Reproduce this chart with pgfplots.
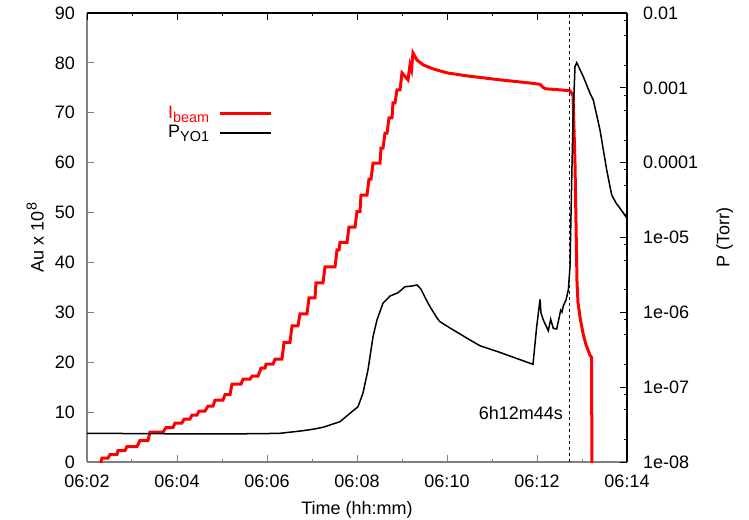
\documentclass[border=0pt]{standalone}
\usepackage{fontspec}
\setmainfont{Liberation Sans}
\usepackage{pgfplots}
\pgfplotsset{compat=1.18}
\newcommand\sub[1]{\raisebox{-0.45ex}{\fontsize{14.4}{14.4}\selectfont #1}}
\newcommand\sups[1]{\raisebox{0.75ex}{\fontsize{14.4}{14.4}\selectfont #1}}
\begin{document}
\fontsize{18}{21}\selectfont
\begin{tikzpicture}
\pgfplotsset{
 common/.style={width=540pt,height=449pt,scale only axis,xmin=2,xmax=14,
  xtick={2,4,...,14}, minor xtick={3,5,...,13}, tick align=inside,
  major tick length=7pt, minor tick length=3.5pt,
  /pgf/number format/assume math mode=true,
  tick label style={font=\fontsize{18}{21}\selectfont},
  label style={font=\fontsize{18}{21}\selectfont}}
}
\begin{axis}[common,
 axis x line*=bottom, axis y line*=left,
 axis line style={draw=gray, line width=1.2pt},
 every tick/.append style={gray, line width=1pt},
 ymin=0, ymax=90, ytick={0,10,...,90},
 xticklabels={06:02,06:04,06:06,06:08,06:10,06:12,06:14},
 xticklabel style={yshift=-7pt},
 yticklabel style={xshift=-6pt},
 xlabel={Time (hh:mm)}, ylabel={Au x 10\sups{8}},
 xlabel style={at={(axis description cs:0.5,-0.107)}, anchor=center},
 ylabel style={at={(axis description cs:-0.096,0.5)}, anchor=center},
]
\coordinate (bl) at (rel axis cs:0,0);
\addplot[red, line width=3pt] coordinates {
(2.289,-1) (2.311,0) (2.333,0.8) (2.467,0.8) (2.511,1.5) (2.667,1.5) (2.689,2.3) (2.844,2.3)
(2.889,3.1) (3.111,3.1) (3.178,4.3) (3.356,4.3) (3.400,6.0) (3.689,6.0) (3.756,6.9) (3.911,6.9)
(3.956,7.8) (4.111,7.8) (4.156,8.6) (4.289,8.6) (4.333,9.4) (4.444,9.4) (4.489,10.2) (4.622,10.2)
(4.689,11.2) (4.800,11.2) (4.844,12.4) (5.022,12.4) (5.067,13.5) (5.178,13.5) (5.222,15.6) (5.422,15.6)
(5.467,16.6) (5.622,16.6) (5.667,17.2) (5.800,17.2) (5.867,18.8) (5.956,18.8) (5.978,19.6) (6.133,19.6)
(6.178,20.6) (6.333,20.6) (6.378,24.0) (6.511,24.0) (6.556,27.3) (6.689,27.3) (6.733,29.7) (6.889,29.7)
(6.933,32.9) (7.067,32.9) (7.089,35.9) (7.244,35.9) (7.289,39.1) (7.511,39.1) (7.556,42.5) (7.600,42.5)
(7.622,44.0) (7.778,44.0) (7.822,47.1) (7.956,47.1) (8.000,50.2) (8.067,50.2) (8.089,53.5) (8.222,53.5)
(8.267,56.7) (8.311,56.7) (8.356,59.9) (8.511,59.9) (8.533,62.9) (8.578,62.9) (8.622,65.9) (8.667,65.9)
(8.711,69.0) (8.778,69.0) (8.800,72.0) (8.844,72.0) (8.889,74.6) (8.956,74.6) (9.000,78.0) (9.133,76.6)
(9.178,79.6) (9.211,78.6) (9.244,82.0) (9.330,80.6) (9.470,79.6) (9.690,78.8) (10.000,78.0) (10.440,77.4)
(11.180,76.6) (11.910,75.9) (12.067,75.7) (12.133,75.1) (12.200,74.8) (12.511,74.6) (12.733,74.4)
(12.800,73.5) (12.844,60) (12.889,36) (12.911,32) (12.956,29) (13.022,25.8) (13.089,23.5)
(13.178,21.4) (13.211,21.0) (13.222,-2)};
\addplot[black, line width=1pt, dash pattern=on 3pt off 3pt] coordinates {(12.733,0) (12.733,90)};
\node[anchor=east, inner sep=0pt] at (axis cs:12.578,9.8) {6h12m44s};
\end{axis}
\begin{axis}[common,
 axis x line*=top, axis y line*=right,
 axis line style={line width=1.2pt},
 every tick/.append style={black, line width=1pt},
 xticklabel=\empty,
 ymode=log, ymin=1e-8, ymax=1e-2,
 ytick={1e-8,1e-7,1e-6,1e-5,1e-4,1e-3,1e-2},
 yticklabels={1e-08,1e-07,1e-06,1e-05,0.0001,0.001,0.01},
 minor ytick={2e-8,5e-8,8e-8,2e-7,5e-7,8e-7,2e-6,5e-6,8e-6,2e-5,5e-5,8e-5,2e-4,5e-4,8e-4,2e-3,5e-3,8e-3},
 yticklabel style={xshift=10pt},
 ylabel={P (Torr)},
 ylabel style={at={(axis description cs:1.181,0.5)}, anchor=center, rotate=0},
 legend style={draw=none, fill=none, at={(0.344,0.797)}, anchor=north east, row sep=0pt,
   inner sep=0pt, font=\fontsize{18}{18}\selectfont,
   nodes={inner sep=1.5pt, text height=12.5pt, text depth=3.5pt},
   /tikz/every odd column/.append style={column sep=8pt}},
 legend plot pos=right, legend cell align=right,
 legend image code/.code={\draw[#1] (0pt,0pt) -- (51pt,0pt);},
]
\addlegendimage{red, line width=3pt}
\addlegendentry{\textcolor{red}{I\sub{beam}}}
\addplot[black, line width=1.5pt] coordinates {
(2.000,2.42e-8) (4.511,2.37e-8) (5.844,2.39e-8) (6.289,2.42e-8) (6.733,2.59e-8) (7.022,2.74e-8)
(7.244,2.91e-8) (7.467,3.22e-8) (7.622,3.46e-8) (7.800,4.25e-8) (8.022,5.48e-8) (8.133,8.36e-8)
(8.244,1.70e-7) (8.356,4.73e-7) (8.444,7.90e-7) (8.578,1.33e-6) (8.733,1.65e-6) (8.911,1.83e-6)
(9.067,2.20e-6) (9.222,2.25e-6) (9.333,2.32e-6) (9.420,2.05e-6) (9.520,1.55e-6) (9.622,1.19e-6) (9.778,8.40e-7)
(9.844,7.50e-7) (10.067,6.17e-7) (10.289,5.14e-7) (10.511,4.27e-7) (10.733,3.58e-7) (11.178,2.91e-7)
(11.911,2.02e-7) (11.993,6.43e-7) (12.067,1.49e-6) (12.089,9.80e-7) (12.140,7.90e-7) (12.251,5.68e-7)
(12.304,8.07e-7) (12.362,6.12e-7) (12.438,5.99e-7) (12.496,8.74e-7) (12.527,1.07e-6) (12.556,1.01e-6)
(12.584,1.22e-6) (12.644,1.46e-6) (12.696,1.99e-6) (12.733,4.07e-6) (12.749,1.26e-5) (12.771,5.87e-5)
(12.800,3.72e-4) (12.844,1.92e-3) (12.882,2.17e-3) (13.029,1.41e-3) (13.178,8.46e-4) (13.251,6.88e-4)
(13.400,2.73e-4) (13.549,7.98e-5) (13.660,3.70e-5) (13.756,2.89e-5) (13.844,2.46e-5) (14.000,1.81e-5)};
\addlegendentry{P\sub{YO1}}
\end{axis}
\pgfresetboundingbox
\path (bl) ++(-87pt,-57pt) rectangle ++(749pt,519pt);
\end{tikzpicture}
\end{document}
